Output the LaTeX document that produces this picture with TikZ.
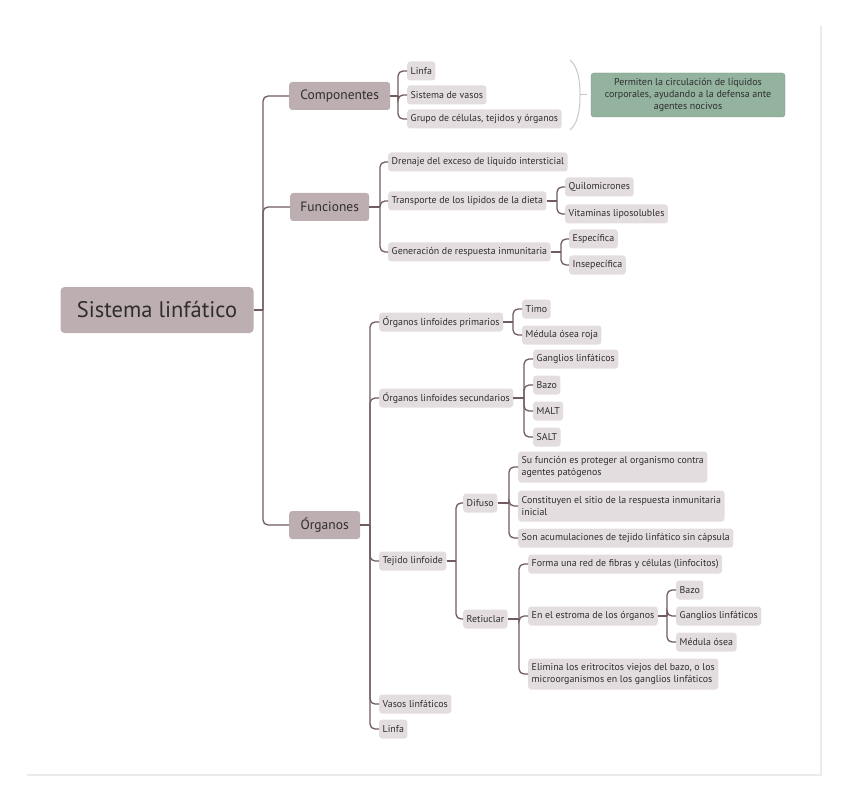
\documentclass[tikz,border=0pt]{standalone}
\usepackage{fontspec}
\setmainfont{PT Sans}
\definecolor{rootc}{HTML}{BDAEB1}
\definecolor{leafc}{HTML}{E4DDDF}
\definecolor{linec}{HTML}{6F5B60}
\definecolor{notec}{HTML}{93B39F}
\definecolor{textc}{HTML}{2E2E2E}
\tikzset{
  box/.style={rounded corners=3pt, text=textc, inner sep=0pt},
  root/.style={box, fill=rootc, rounded corners=4pt, font=\fontsize{22.5}{26}\selectfont,
    minimum width=193pt, minimum height=46pt},
  main/.style={box, fill=rootc, anchor=west, font=\fontsize{13.5}{16}\selectfont,
    minimum height=28pt},
  leaf/.style={box, fill=leafc, anchor=west, font=\fontsize{9.9}{12.5}\selectfont,
    minimum height=19pt, inner xsep=3.5pt, align=left},
  conn/.style={draw=linec, line width=1.3pt, rounded corners=5pt},
}
\begin{document}
\begin{tikzpicture}[x=1pt, y=-1pt]
  \useasboundingbox (0,0) rectangle (848,802);
  \draw[black!8, line width=2pt] (27,775) -- (821,775) -- (821,26);

  \node[root] (sl) at (157,310) {Sistema linfático};
  \node[main, minimum width=101pt] (comp) at (289,96) {Componentes};
  \node[main, minimum width=79pt] (func) at (290,207) {Funciones};
  \node[main, minimum width=71pt] (org) at (289,525) {Órganos};

  \node[leaf] (c1) at (407,71) {Linfa};
  \node[leaf] (c2) at (407,95) {Sistema de vasos};
  \node[leaf] (c3) at (407,119) {Grupo de células, tejidos y órganos};
  \node[box, fill=notec, draw=notec!85!black, line width=0.4pt, minimum width=194pt,
    minimum height=44pt, font=\fontsize{10}{12}\selectfont, align=center]
    (note) at (688,95) {Permiten la circulación de líquidos\\corporales, ayudando a la defensa ante\\agentes nocivos};

  \node[leaf] (f1) at (388,162) {Drenaje del exceso de líquido intersticial};
  \node[leaf] (f2) at (388,201) {Transporte de los lípidos de la dieta};
  \node[leaf] (f3) at (388,252) {Generación de respuesta inmunitaria};
  \node[leaf] (f21) at (565,187) {Quilomicrones};
  \node[leaf] (f22) at (565,214) {Vitaminas liposolubles};
  \node[leaf] (f31) at (569,239) {Específica};
  \node[leaf] (f32) at (569,265) {Insepecífica};

  \node[leaf] (o1) at (379,322) {Órganos linfoides primarios};
  \node[leaf] (o11) at (522,309) {Timo};
  \node[leaf] (o12) at (522,335) {Médula ósea roja};
  \node[leaf] (o2) at (379,398) {Órganos linfoides secundarios};
  \node[leaf] (o21) at (533,359) {Ganglios linfáticos};
  \node[leaf] (o22) at (533,385) {Bazo};
  \node[leaf] (o23) at (533,411) {MALT};
  \node[leaf] (o24) at (533,437) {SALT};
  \node[leaf] (o3) at (379,561) {Tejido linfoide};
  \node[leaf] (o31) at (463,503) {Difuso};
  \node[leaf, minimum height=31pt] (o311) at (518,467) {Su función es proteger al organismo contra\\agentes patógenos};
  \node[leaf, minimum height=31pt] (o312) at (518,506) {Constituyen el sitio de la respuesta inmunitaria\\inicial};
  \node[leaf] (o313) at (518,538) {Son acumulaciones de tejido linfático sin cápsula};
  \node[leaf] (o32) at (463,619) {Retiuclar};
  \node[leaf] (o321) at (528,564) {Forma una red de fibras y células (linfocitos)};
  \node[leaf] (o322) at (528,616) {En el estroma de los órganos};
  \node[leaf] (o3221) at (676,590) {Bazo};
  \node[leaf] (o3222) at (676,616) {Ganglios linfáticos};
  \node[leaf] (o3223) at (676,642) {Médula ósea};
  \node[leaf, minimum height=31pt] (o323) at (528,674) {Elimina los eritrocitos viejos del bazo, o los\\microorganismos en los ganglios linfáticos};
  \node[leaf] (o4) at (379,704) {Vasos linfáticos};
  \node[leaf] (o5) at (379,729) {Linfa};

  \begin{scope}[conn]
    \foreach \p/\c/\g in {sl/comp/26, sl/func/27, sl/org/26,
        comp/c1/9, comp/c2/9, comp/c3/9,
        func/f1/8, func/f2/8, func/f3/8, f2/f21/8, f2/f22/8, f3/f31/8, f3/f32/8,
        org/o1/9, org/o2/9, org/o3/9, org/o4/9, org/o5/9,
        o1/o11/9, o1/o12/9, o2/o21/9, o2/o22/9, o2/o23/9, o2/o24/9,
        o3/o31/7, o3/o32/7, o31/o311/9, o31/o312/9, o31/o313/9,
        o32/o321/9, o32/o322/9, o32/o323/9,
        o322/o3221/9, o322/o3222/9, o322/o3223/9}
    {
      \draw (\p.east) -- ([xshift=-\g pt]\c.west |- \p.east);
      \draw ([xshift=-\g pt]\c.west |- \p.east) |- (\c.west);
    }
  \end{scope}

  \draw[black!22, line width=1pt] (570,60) .. controls (580,68) and (580,88) .. (580,95)
    .. controls (580,102) and (580,122) .. (570,130);
  \draw[black!22, line width=1pt] (580,95) -- (587,95);
\end{tikzpicture}
\end{document}
